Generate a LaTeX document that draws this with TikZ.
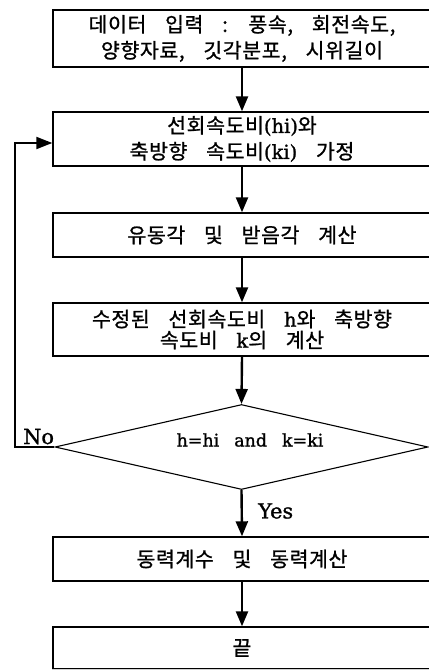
\documentclass[tikz,border=0pt]{standalone}
\usepackage{fontspec}
\newfontfamily\kr[LetterSpace=3,WordSpace=3.6,FakeBold=1]{Noto Sans CJK KR}
\newfontfamily\lfont[Scale=0.85,FakeBold=1.2]{DejaVu Serif}
\newfontfamily\lfontin[Scale=0.95,FakeBold=1.2]{DejaVu Serif}
\newcommand\latn[1]{{\lfontin #1}}
\usetikzlibrary{shapes.geometric,arrows.meta}
\begin{document}
\begin{tikzpicture}[x=1pt,y=-1pt,
  box/.style={draw, line width=1.4pt, minimum width=378pt, inner sep=0pt, align=center,
    font=\kr\fontsize{20.5}{26}\selectfont},
  arr/.style={line width=2.4pt, -{Triangle[length=15pt,width=12pt]}},
  fb/.style={line width=2.2pt, -{Triangle[length=16pt,width=12pt]}},
  lbl/.style={font=\lfont\fontsize{24.5}{27}\selectfont, inner sep=0pt}]
\useasboundingbox (0,0) rectangle (428,671);
\node[box, minimum height=57pt] (b1) at (242,38.5) {데이터 입력 : 풍속, 회전속도,\\양향자료, 깃각분포, 시위길이};
\node[box, minimum height=54pt] (b2) at (242,139) {선회속도비\latn{(hi)}와\\축방향 속도비\latn{(ki)} 가정};
\node[box, minimum height=44pt] (b3) at (242,235) {유동각 및 받음각 계산};
\node[box, minimum height=53pt, font=\kr\fontsize{20.5}{21}\selectfont] (b4) at (242,329.5) {수정된 선회속도비 \latn{h}와 축방향\\속도비 \latn{k}의 계산};
\node[diamond, draw, line width=1.1pt, minimum width=373pt, minimum height=85pt, inner sep=0pt, aspect=4.4] (dec) at (241.5,447) {};
\node[font=\lfont\fontsize{20.5}{22}\selectfont, inner sep=0pt] (dectext) at (250,440) {h=hi\hspace{15pt}and\hspace{15pt}k=ki};
\node[box, minimum height=44pt] (b5) at (242,559) {동력계수 및 동력계산};
\node[box, minimum height=42pt] (b6) at (242,648) {끝};
\draw[gray!35, line width=1.4pt] (b6.south west) -- (b6.south east);
\draw[arr] (b1.south) -- (b2.north);
\draw[arr] (b2.south) -- (b3.north);
\draw[arr] (b3.south) -- (b4.north);
\draw[arr] (b4.south) -- (dec.north);
\draw[arr] (dec.south) -- (b5.north);
\node[lbl, anchor=west] (yes) at (258,511) {Yes};
\draw[arr] (b5.south) -- (b6.north);
\coordinate (corner) at (15,447);
\draw[fb] (dec.west) -- (corner) |- ([yshift=-4pt]b2.west);
\node[lbl, anchor=base west] (no) at (23,444) {No};
\end{tikzpicture}
\end{document}
